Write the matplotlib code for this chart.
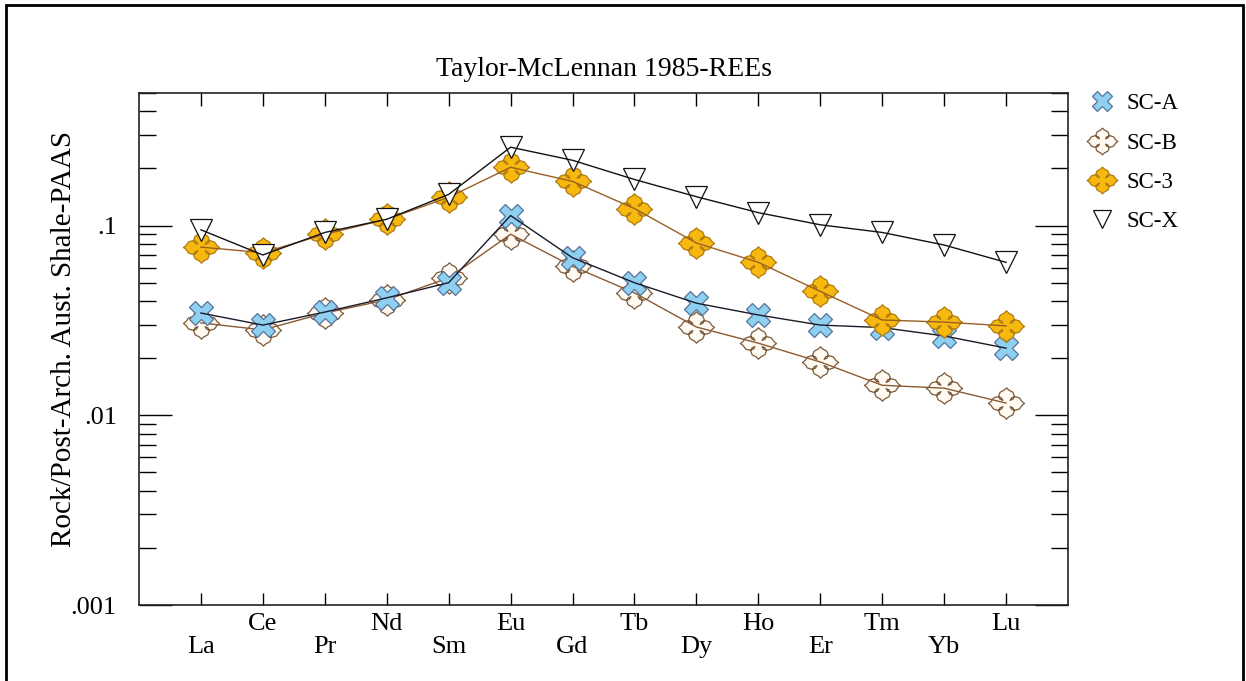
import numpy as np
import matplotlib
matplotlib.use("Agg")
import matplotlib.pyplot as plt
from matplotlib.path import Path
from matplotlib.patches import Rectangle
from matplotlib.ticker import FixedLocator, NullFormatter, LogLocator

plt.rcParams['font.family'] = ['Liberation Serif', 'DejaVu Serif']

# REE order along the x axis
elements = ['La', 'Ce', 'Pr', 'Nd', 'Sm', 'Eu', 'Gd', 'Tb', 'Dy', 'Ho', 'Er', 'Tm', 'Yb', 'Lu']

# Rock / PAAS normalised values
sc_a = [0.0346, 0.0299, 0.0350, 0.0416, 0.0500, 0.113, 0.0677, 0.0500, 0.0390, 0.0338, 0.0299, 0.0290, 0.0262, 0.0226]
sc_b = [0.0307, 0.0282, 0.0346, 0.0406, 0.0530, 0.0900, 0.0610, 0.0442, 0.0292, 0.0240, 0.0191, 0.0144, 0.0139, 0.0116]
sc_3 = [0.0770, 0.0720, 0.0900, 0.108, 0.141, 0.203, 0.171, 0.123, 0.081, 0.064, 0.045, 0.0318, 0.0310, 0.0296]
sc_x = [0.0950, 0.0700, 0.0920, 0.108, 0.146, 0.259, 0.221, 0.175, 0.142, 0.117, 0.101, 0.092, 0.079, 0.064]

# four-lobed cross marker with pointed tips
def cross_marker():
    half = [(0.2, 0.2), (0.36, 0.28), (0.43, 0.5), (0.35, 0.72), (0.12, 0.86), (0.0, 1.0)]
    arm = half + [(-px, py) for px, py in reversed(half[1:-1])]
    pts = []
    for k in range(4):
        r = k * np.pi / 2
        for px, py in arm:
            qx = px * np.cos(r) - py * np.sin(r)
            qy = px * np.sin(r) + py * np.cos(r)
            pts.append((qx * 1.15, qy))
    pts.append(pts[0])
    codes = [Path.MOVETO] + [Path.LINETO] * (len(pts) - 2) + [Path.CLOSEPOLY]
    return Path(pts, codes)

star = cross_marker()

fig = plt.figure(figsize=(12.46, 6.81), dpi=100)
ax = fig.add_axes([139 / 1246, 1 - 605 / 681, (1068 - 139) / 1246, (605 - 93) / 681])

x = np.arange(len(elements))
series = [
    ('SC-B', sc_b, '#8a5a32', dict(marker=star, ms=26, mfc='#fffaf2', mec='#7a5a3a')),
    ('SC-A', sc_a, '#1a1a2a', dict(marker='X', ms=17, mfc='#8fd0f0', mec='#55729a')),
    ('SC-3', sc_3, '#9a5f25', dict(marker=star, ms=26, mfc='#f7b80f', mec='#b07a10')),
    ('SC-X', sc_x, '#111111', dict(marker='v', ms=16, mfc='white', mec='#111111')),
]
handles = {}
z = 2
for name, vals, lc, mk in series:
    h, = ax.plot(x, vals, ls='none', mew=0.9, zorder=z, label=name, **mk)
    ax.plot(x, vals, color=lc, lw=1.0, zorder=z + 0.5)
    handles[name] = h
    z += 1

ax.set_yscale('log')
ax.set_ylim(0.001, 0.5)
ax.set_xlim(-1, 14)

ax.yaxis.set_major_locator(FixedLocator([0.001, 0.01, 0.1]))
ax.set_yticklabels(['.001', '.01', '.1'])
ax.yaxis.set_minor_locator(LogLocator(base=10, subs=np.arange(2, 10)))
ax.yaxis.set_minor_formatter(NullFormatter())
ax.tick_params(axis='y', which='major', direction='in', length=24, width=1.0,
               left=True, right=True, labelsize=19, pad=16)
ax.tick_params(axis='y', which='minor', direction='in', length=12, width=1.0,
               left=True, right=True)

ax.set_xticks(x)
ax.set_xticklabels([])
ax.tick_params(axis='x', which='major', direction='in', length=9, width=1.0,
               top=True, bottom=True)
for i, el in enumerate(elements):
    yoff = -0.038 if i % 2 == 1 else -0.083
    ax.text(i, yoff, el, transform=ax.get_xaxis_transform(), ha='center', va='center', fontsize=19)

for sp in ax.spines.values():
    sp.set_linewidth(1.2)
    sp.set_color('#222222')

ax.set_title('Taylor-McLennan 1985-REEs', fontsize=20, pad=12)
ax.set_ylabel('Rock/Post-Arch. Aust. Shale-PAAS', fontsize=21)
ax.yaxis.set_label_coords(-0.067, 0.52)

ax.legend(handles=[handles[n] for n in ['SC-A', 'SC-B', 'SC-3', 'SC-X']],
          labels=['SC-A', 'SC-B', 'SC-3', 'SC-X'],
          loc='upper left', bbox_to_anchor=(1.0, 1.04), frameon=False,
          fontsize=16.5, handlelength=1.2, handletextpad=0.45, labelspacing=0.8,
          markerscale=0.85)

fig.patches.append(Rectangle((6 / 1246, -0.02), (1243 - 6) / 1246, 1.02 - 5 / 681,
                             transform=fig.transFigure, fill=False, lw=2, ec='black'))

fig.savefig('out.png', dpi=100)
